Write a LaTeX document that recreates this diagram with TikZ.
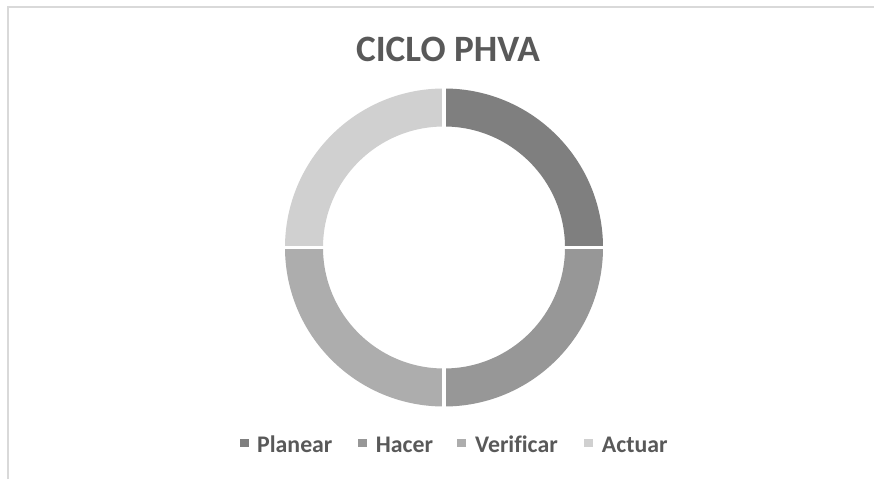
\documentclass[tikz,border=0pt]{standalone}
\usepackage{fontspec}
\setmainfont{Carlito}[Ligatures=NoCommon]
\usetikzlibrary{calc}
\definecolor{txt}{HTML}{595959}
\definecolor{frame}{HTML}{D9D9D9}
\definecolor{cpl}{HTML}{7F7F7F}
\definecolor{cha}{HTML}{979797}
\definecolor{cve}{HTML}{ADADAD}
\definecolor{cac}{HTML}{D0D0D0}
\tikzset{
  legtext/.style={anchor=base west, inner sep=0pt, text=txt, font=\fontsize{23.8}{26}\selectfont\bfseries},
  legmark/.style={minimum size=8.5pt, inner sep=0pt, anchor=center},
  gap/.style={white, line width=3.6pt},
}
\begin{document}
\begin{tikzpicture}[x=1pt,y=1pt]
\useasboundingbox (0,0) rectangle (874,479);
\fill[white] (0,0) rectangle (874,479);
% frame
\draw[frame, line width=2pt] (8,0) -- (8,472) -- (874,472);
% title
\node[anchor=base, inner sep=0pt, text=txt, font=\fontsize{37.2}{40}\selectfont\bfseries] (title) at (448,417) {CICLO PHVA};
% ring
\coordinate (C) at (444,231.5);
\def\Ro{159}\def\Ri{121}
\fill[cpl] ([shift={(90:\Ro)}]C) arc[start angle=90,end angle=0,radius=\Ro] -- ([shift={(0:\Ri)}]C) arc[start angle=0,end angle=90,radius=\Ri] -- cycle;
\fill[cha] ([shift={(0:\Ro)}]C) arc[start angle=0,end angle=-90,radius=\Ro] -- ([shift={(-90:\Ri)}]C) arc[start angle=-90,end angle=0,radius=\Ri] -- cycle;
\fill[cve] ([shift={(-90:\Ro)}]C) arc[start angle=-90,end angle=-180,radius=\Ro] -- ([shift={(180:\Ri)}]C) arc[start angle=180,end angle=270,radius=\Ri] -- cycle;
\fill[cac] ([shift={(180:\Ro)}]C) arc[start angle=180,end angle=90,radius=\Ro] -- ([shift={(90:\Ri)}]C) arc[start angle=90,end angle=180,radius=\Ri] -- cycle;
\draw[gap] ([shift={(90:115)}]C) -- ([shift={(90:165)}]C);
\draw[gap] ([shift={(-90:115)}]C) -- ([shift={(-90:165)}]C);
\draw[gap] ([shift={(0:115)}]C) -- ([shift={(0:165)}]C);
\draw[gap] ([shift={(180:115)}]C) -- ([shift={(180:165)}]C);
% legend
\node[legmark, fill=cpl] (m1) at (244.5,36) {};
\node[legtext] (l1) at (257,27) {Planear};
\node[legmark, fill=cha] (m2) at (362.3,36) {};
\node[legtext] (l2) at (375.7,27) {Hacer};
\node[legmark, fill=cve] (m3) at (461.7,36) {};
\node[legtext] (l3) at (475,27) {Verificar};
\node[legmark, fill=cac] (m4) at (588.3,36) {};
\node[legtext] (l4) at (601.7,27) {Actuar};
\end{tikzpicture}
\end{document}
